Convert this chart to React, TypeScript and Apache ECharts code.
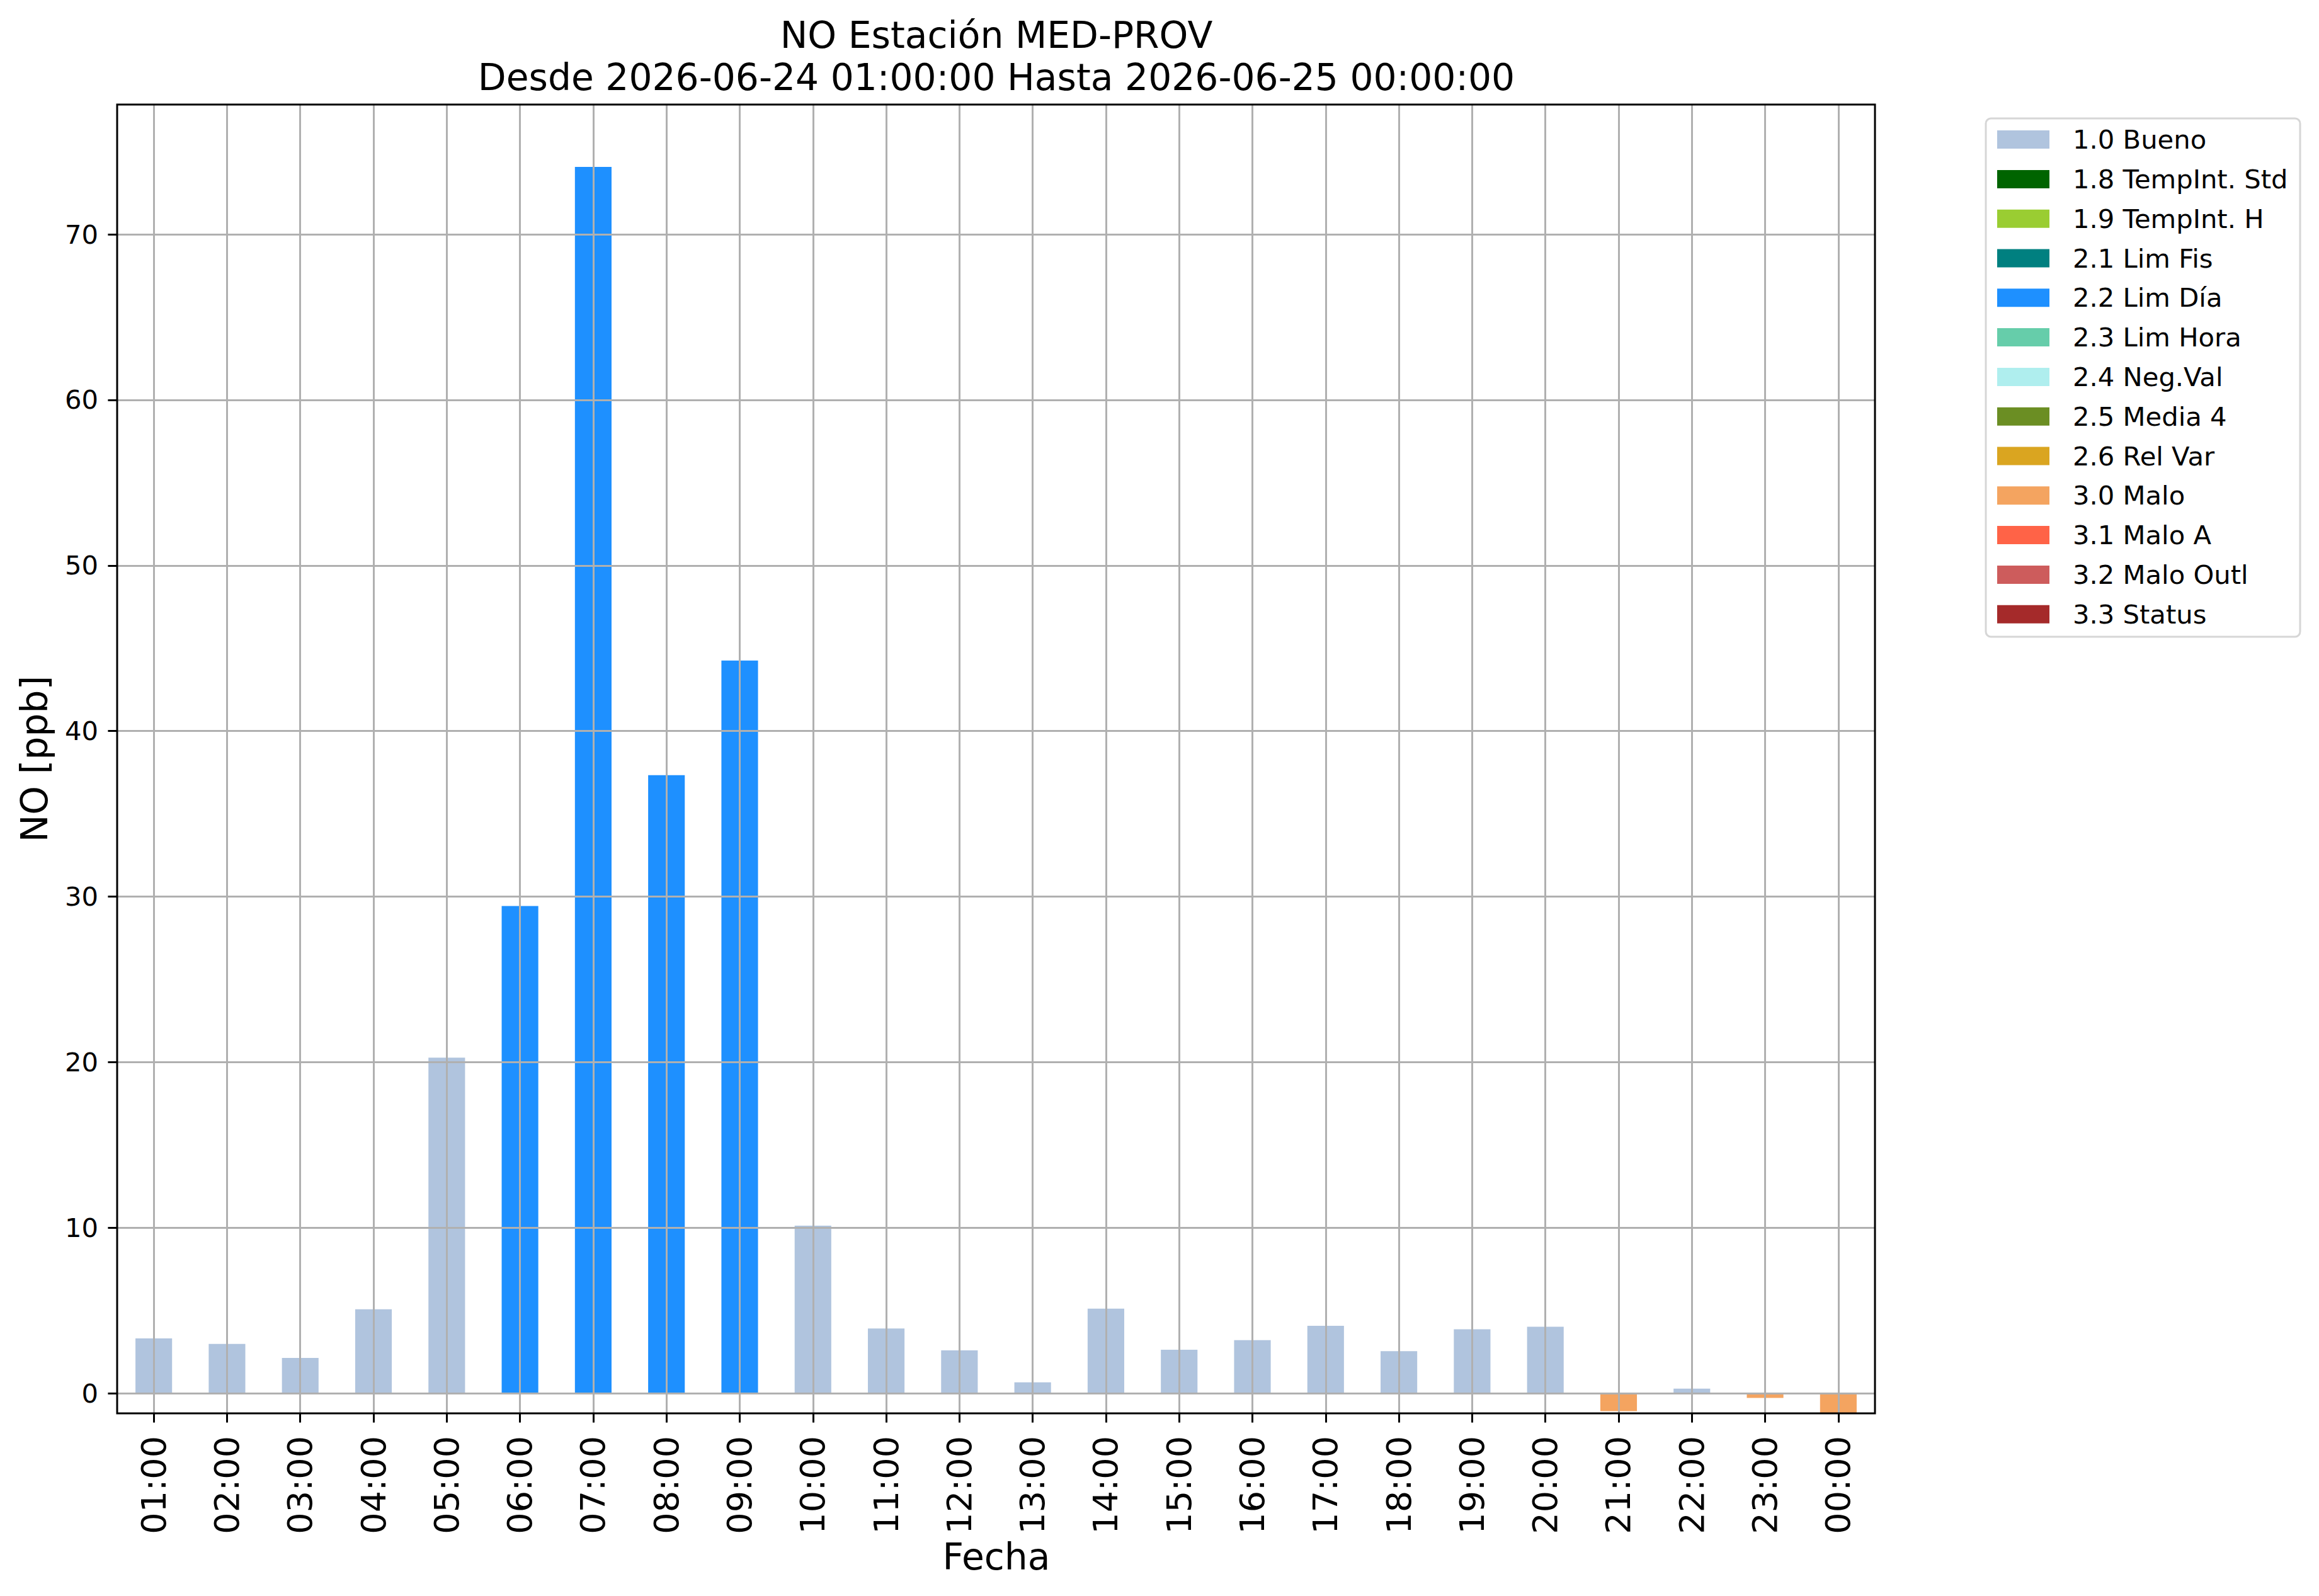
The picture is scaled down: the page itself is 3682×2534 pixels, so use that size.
import React, { useEffect, useRef } from "react";
import * as echarts from "echarts";

const HOURS = ["01:00","02:00","03:00","04:00","05:00","06:00","07:00","08:00","09:00","10:00","11:00","12:00","13:00","14:00","15:00","16:00","17:00","18:00","19:00","20:00","21:00","22:00","23:00","00:00"];
const VALUES = [3.32, 2.98, 2.14, 5.08, 20.27, 29.43, 74.07, 37.34, 44.26, 10.13, 3.92, 2.59, 0.66, 5.11, 2.63, 3.21, 4.08, 2.55, 3.87, 4.02, -1.08, 0.28, -0.28, -1.3];
const FLAGS = ["1.0","1.0","1.0","1.0","1.0","2.2","2.2","2.2","2.2","1.0","1.0","1.0","1.0","1.0","1.0","1.0","1.0","1.0","1.0","1.0","3.0","1.0","3.0","3.0"];
const FLAG_CODES = ["1.0","1.8","1.9","2.1","2.2","2.3","2.4","2.5","2.6","3.0","3.1","3.2","3.3"];
const FLAG_NAMES = ["1.0 Bueno","1.8 TempInt. Std","1.9 TempInt. H","2.1 Lim Fis","2.2 Lim Día","2.3 Lim Hora","2.4 Neg.Val","2.5 Media 4","2.6 Rel Var","3.0 Malo","3.1 Malo A","3.2 Malo Outl","3.3 Status"];
const FLAG_COLORS = ["#b0c4de","#006400","#9acd32","#008080","#1e90ff","#66cdaa","#afeeee","#6b8e23","#daa520","#f4a460","#ff6347","#cd5c5c","#a52a2a"];
const Y_TICKS = [0, 10, 20, 30, 40, 50, 60, 70];
const Y_MIN = -1.21;
const Y_MAX = 77.84;

const FONT = "DejaVu Sans";

export default function App() {
  const ref = useRef<HTMLDivElement>(null);
  useEffect(() => {
    if (!ref.current) return;
    const chart = echarts.init(ref.current, null, { renderer: "svg" });
    const series = FLAG_CODES.map((code, k) => ({
      name: FLAG_NAMES[k],
      type: "bar",
      stack: "total",
      barWidth: "50%",
      clip: true,
      itemStyle: { color: FLAG_COLORS[k] },
      data: VALUES.map((v, i) => (FLAGS[i] === code ? v : null)),
      z: 2,
    }));
    const option: any = {
      animation: false,
      backgroundColor: "#ffffff",
      textStyle: { fontFamily: FONT },
      grid: {
        left: 186,
        right: 3682 - 2977,
        top: 166,
        bottom: 2534 - 2244,
        show: true,
        borderColor: "#000000",
        borderWidth: 3,
        backgroundColor: "transparent",
        z: 11,
      },
      xAxis: {
        type: "category",
        data: HOURS,
        boundaryGap: true,
        z: 10,
        axisLine: { show: false, onZero: false },
        axisTick: {
          show: true,
          alignWithLabel: true,
          interval: 0,
          length: 14.6,
          lineStyle: { color: "#000000", width: 3 },
        },
        axisLabel: {
          interval: 0,
          rotate: 90,
          margin: 36,
          fontSize: 54,
          color: "#000000",
          fontFamily: FONT,
        },
        splitLine: {
          show: true,
          alignWithLabel: true,
          interval: 0,
          lineStyle: { color: "#b0b0b0", width: 3 },
        },
      },
      yAxis: {
        type: "value",
        min: Y_MIN,
        max: Y_MAX,
        z: 10,
        axisLine: { show: false },
        axisTick: {
          show: true,
          length: 14.6,
          customValues: Y_TICKS,
          lineStyle: { color: "#000000", width: 3 },
        },
        axisLabel: {
          customValues: Y_TICKS,
          margin: 30,
          fontSize: 41.7,
          color: "#000000",
          fontFamily: FONT,
        },
        splitLine: {
          show: true,
          lineStyle: { color: "#b0b0b0", width: 3 },
        },
      },
      legend: {
        orient: "vertical",
        left: 3171,
        top: 200.6,
        padding: 0,
        itemWidth: 83,
        itemHeight: 29,
        itemGap: 20.8,
        icon: "rect",
        selectedMode: false,
        data: FLAG_NAMES,
        textStyle: {
          fontSize: 41.7,
          color: "#000000",
          fontFamily: FONT,
          padding: [0, 0, 0, 32],
        },
      },
      graphic: [
        {
          type: "rect",
          z: 0,
          shape: { x: 3153, y: 188, width: 499, height: 823, r: 8 },
          style: { fill: "#ffffff", stroke: "#d6d6d6", lineWidth: 3 },
        },
        {
          type: "text",
          x: 1582,
          y: 56,
          style: {
            text: "NO Estación MED-PROV",
            fontSize: 58.3,
            fontFamily: FONT,
            fill: "#000000",
            align: "center",
            verticalAlign: "middle",
          },
        },
        {
          type: "text",
          x: 1582,
          y: 123,
          style: {
            text: "Desde 2026-06-24 01:00:00 Hasta 2026-06-25 00:00:00",
            fontSize: 58.3,
            fontFamily: FONT,
            fill: "#000000",
            align: "center",
            verticalAlign: "middle",
          },
        },
        {
          type: "text",
          x: 1582,
          y: 2472,
          style: {
            text: "Fecha",
            fontSize: 58.3,
            fontFamily: FONT,
            fill: "#000000",
            align: "center",
            verticalAlign: "middle",
          },
        },
        {
          type: "text",
          x: 55,
          y: 1205,
          rotation: Math.PI / 2,
          style: {
            text: "NO [ppb]",
            fontSize: 58.3,
            fontFamily: FONT,
            fill: "#000000",
            align: "center",
            verticalAlign: "middle",
          },
        },
      ],
      series,
    };
    chart.setOption(option);
    return () => chart.dispose();
  }, []);
  return (
    <div
      ref={ref}
      style={{ position: "fixed", left: 0, top: 0, width: 3682, height: 2534, background: "#ffffff" }}
    />
  );
}
